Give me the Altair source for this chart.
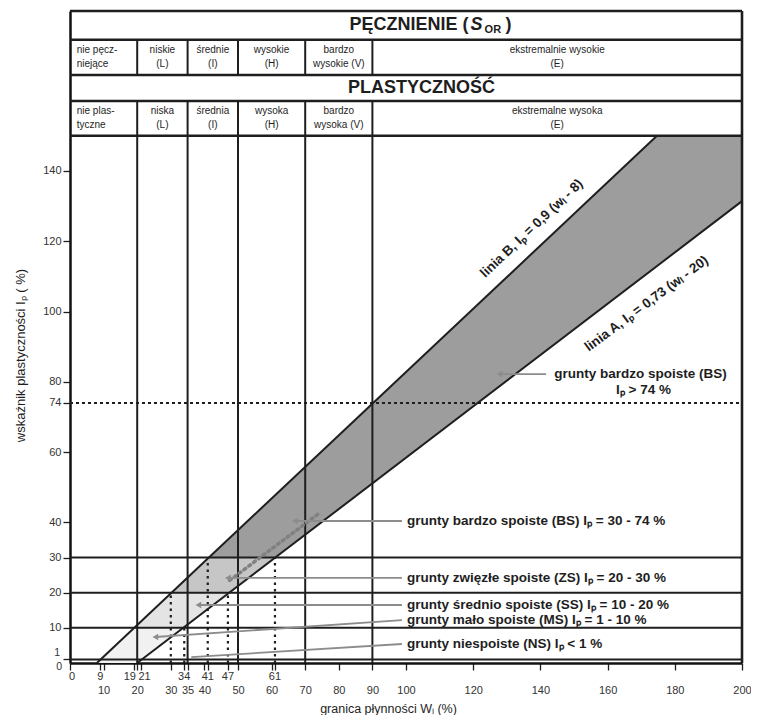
import altair as alt
import pandas as pd

FONT = "Liberation Sans"
W, H = 672, 652
Y_TOP = 185.5
INK = "#1e1e1e"

# ---------------- data ----------------
x_lower = [10, 20, 30, 35, 40, 50, 60, 70, 80, 90, 100, 120, 140, 160, 180, 200]
x_upper = [0, 9, 19, 21, 34, 41, 47, 61]
x_upper_shift = [2, 0, -4, 4, 0, 0, 0, 0]
y_ticks = [1, 10, 20, 30, 40, 60, 74, 80, 100, 120, 140]
y_corner = ["1", "0"]
y_corner_val = [1, 0]
y_corner_dx = [-10, -8]
y_corner_dy = [-6, 4]

class_wl = [20, 35, 50, 70, 90]          # plasticity class limits (w_L)
ip_limits = [1, 10, 20, 30]              # cohesion class limits (I_p)
header_rows = [150, 159.9, 167.3, 177.3, Y_TOP]

# lines A and B
lineA_wl = [20, 200]
lineA_ip = [0, 131.4]
lineB_wl = [8, 174.7]
lineB_ip = [0, 150]

# band between lines (Ip level, w_L on line B, w_L on line A)
lvl_ip = [0, 10, 20, 30, 131.4, 150]
lvl_left = [8, 19.1, 30.2, 41.3, 154.0, 174.7]
lvl_right = [20, 33.7, 47.4, 61.1, 200, 200]
band_names = ["0-10", "10-20", "20-30", ">30"]
band_idx = [[0, 1], [1, 2], [2, 3], [3, 4, 5]]
band_colors = ["#f1f1f1", "#e4e4e4", "#c6c6c6", "#9d9d9d"]

# dotted verticals
dv_wl = [30, 34, 41, 47, 61]
dv_top = [19.8, 10.2, 29.7, 19.7, 29.9]

# header labels
swell_l1 = ["nie pęcz-", "niskie", "średnie", "wysokie", "bardzo", "ekstremalnie wysokie"]
swell_l2 = ["niejące", "(L)", "(I)", "(H)", "wysokie (V)", "(E)"]
plast_l1 = ["nie plas-", "niska", "średnia", "wysoka", "bardzo", "ekstremalne wysoka"]
plast_l2 = ["tyczne", "(L)", "(I)", "(H)", "wysoka (V)", "(E)"]
col_pos = [2.0, 27.5, 42.5, 60, 80, 145]
col_align = ["left", "center", "center", "center", "center", "center"]

# leaders: start (arrow) -> end
ld_x1 = [127.8, 66.9, 47.0, 38.2, 25.4, 36.1]
ld_y1 = [82.2, 40.4, 24.2, 16.5, 7.4, 1.7]
ld_x2 = [141.7, 98.8, 98.8, 98.8, 98.8, 98.8]
ld_y2 = [82.2, 40.4, 24.2, 16.5, 12.2, 5.4]
ld_arrow = [True, True, True, True, True, False]

ann_text = [
    "grunty bardzo spoiste (BS) Iₚ = 30 - 74 %",
    "grunty zwięzłe spoiste (ZS) Iₚ = 20 - 30 %",
    "grunty średnio spoiste (SS) Iₚ = 10 - 20 %",
    "grunty mało spoiste (MS) Iₚ = 1 - 10 %",
    "grunty niespoiste (NS) Iₚ < 1 %",
]
ann_ip = [40.4, 24.2, 16.6, 12.1, 5.4]
ann_wl = 100.3

bs_text = ["grunty bardzo spoiste (BS)", "Iₚ > 74 %"]
bs_wl = [144.1, 170.7]
bs_ip = [82.2, 77.7]
bs_align = ["left", "center"]

dots_wl = [47.5, 74.0]
dots_ip = [23.5, 42.5]

# ---------------- scales / axes ----------------
xs = alt.Scale(domain=[0, 200], nice=False, zero=False)
ys = alt.Scale(domain=[0, Y_TOP], nice=False, zero=False)

x_all = sorted(set(x_lower + x_upper))
lower_str = "[" + ",".join(str(v) for v in x_lower) + "]"
X_AX = alt.Axis(
    values=x_all,
    labelExpr=f"indexof({lower_str}, datum.value) >= 0 ? datum.label : ''",
    title="granica płynności  Wₗ (%)",
    titleX=318, titleY=45, titleBaseline="middle", titleAlign="center",
    titleFont=FONT, titleFontSize=12.5, titleFontWeight="normal", titleColor=INK,
    labelFont=FONT, labelFontSize=11, labelColor="#333",
    labelPadding=14, labelFlush=False, labelOverlap=False,
    tickSize=7, tickColor=INK, tickWidth=1.3,
    domainColor="#111", domainWidth=2.5, grid=False,
)
Y_AX = alt.Axis(
    values=y_ticks,
    labelExpr="datum.value == 1 ? '' : datum.label",
    title="wskaźnik plastyczności  Iₚ  ( %)",
    titleX=-43, titleY=344, titleAngle=270, titleBaseline="bottom", titleAlign="center",
    titleFont=FONT, titleFontSize=13, titleFontWeight="normal", titleColor=INK,
    labelFont=FONT, labelFontSize=11, labelColor="#333", labelPadding=2,
    labelOverlap=False, labelFlush=False,
    tickSize=7, tickColor=INK, tickWidth=1.3,
    domainColor="#111", domainWidth=2.5, grid=False,
)


def X(f):
    return alt.X(f, type="quantitative", scale=xs, axis=X_AX)


def Y(f):
    return alt.Y(f, type="quantitative", scale=ys, axis=Y_AX)


def txt(df, **kw):
    base = dict(baseline="middle", font=FONT, color=INK)
    base.update(kw)
    return alt.Chart(df).mark_text(**base).encode(x=X("wl"), y=Y("ip"), text="t:N")


# ---------------- layers ----------------
band_rows = []
for name, idx in zip(band_names, band_idx):
    for i in idx:
        band_rows.append({"band": name, "ip": lvl_ip[i], "left": lvl_left[i], "right": lvl_right[i]})
bands = alt.Chart(pd.DataFrame(band_rows)).mark_area(orient="horizontal", opacity=1).encode(
    y=Y("ip"),
    x=alt.X("left", type="quantitative", scale=xs, axis=X_AX, stack=None),
    x2="right",
    color=alt.Color("band:N", scale=alt.Scale(domain=band_names, range=band_colors), legend=None),
    detail="band:N",
)

hl = alt.Chart(pd.DataFrame({"y": ip_limits, "a": 0, "b": 200})).mark_rule(
    color=INK, strokeWidth=2).encode(x=X("a"), x2="b", y=Y("y"))
hh = alt.Chart(pd.DataFrame({"y": header_rows, "a": 0, "b": 200})).mark_rule(
    color=INK, strokeWidth=2.6).encode(x=X("a"), x2="b", y=Y("y"))
vrows = []
for v in class_wl:
    vrows.append({"x": v, "y0": 0, "y1": header_rows[1]})
    vrows.append({"x": v, "y0": header_rows[2], "y1": header_rows[3]})
vl = alt.Chart(pd.DataFrame(vrows)).mark_rule(color=INK, strokeWidth=2).encode(
    x=X("x"), y=Y("y0"), y2="y1")
rb = alt.Chart(pd.DataFrame({"x": [200], "y0": [0], "y1": [Y_TOP]})).mark_rule(
    color=INK, strokeWidth=2.6).encode(x=X("x"), y=Y("y0"), y2="y1")

lab = pd.DataFrame({
    "line": ["A", "A", "B", "B"],
    "wl": lineA_wl + lineB_wl,
    "ip": lineA_ip + lineB_ip,
})
lines = alt.Chart(lab).mark_line(color=INK, strokeWidth=2).encode(
    x=X("wl"), y=Y("ip"), detail="line:N")

dv = alt.Chart(pd.DataFrame({"x": dv_wl, "y0": 0, "y1": dv_top})).mark_rule(
    color=INK, strokeWidth=2.2, strokeDash=[2.5, 4]).encode(x=X("x"), y=Y("y0"), y2="y1")
d74 = alt.Chart(pd.DataFrame({"y": [74], "a": [0], "b": [200]})).mark_rule(
    color=INK, strokeWidth=2, strokeDash=[3, 3]).encode(x=X("a"), x2="b", y=Y("y"))

dots = alt.Chart(pd.DataFrame({"wl": dots_wl, "ip": dots_ip})).mark_line(
    color="#808080", strokeWidth=3.5, strokeDash=[2, 4], strokeCap="round").encode(
    x=X("wl"), y=Y("ip"))

ld = pd.DataFrame({"x1": ld_x1, "y1": ld_y1, "x2": ld_x2, "y2": ld_y2, "arrow": ld_arrow})
leaders = alt.Chart(ld).mark_rule(color="#8c8c8c", strokeWidth=1.8).encode(
    x=X("x1"), y=Y("y1"), x2="x2", y2="y2")
arrows = alt.Chart(ld[ld["arrow"]]).mark_point(
    shape="triangle-left", filled=True, color="#8c8c8c", size=45, opacity=1).encode(
    x=X("x1"), y=Y("y1"))

ann = txt(pd.DataFrame({"t": ann_text, "ip": ann_ip, "wl": ann_wl}),
          align="left", fontSize=13.5, fontWeight="bold")
bs_layers = [
    txt(pd.DataFrame({"t": [t], "wl": [xw], "ip": [yi]}), align=al, fontSize=13.5, fontWeight="bold")
    for t, xw, yi, al in zip(bs_text, bs_wl, bs_ip, bs_align)
]

labB = txt(pd.DataFrame({"t": ["linia B, Iₚ = 0,9 (wₗ - 8)"], "wl": [137.4], "ip": [123.6]}),
           align="center", angle=316.5, fontSize=13.5, fontWeight="bold")
labA = txt(pd.DataFrame({"t": ["linia A, Iₚ = 0,73 (wₗ - 20)"], "wl": [171.6], "ip": [102.2]}),
           align="center", angle=323.3, fontSize=13.5, fontWeight="bold")

hdr_layers = []
for l1, l2, yy1, yy2 in [(swell_l1, swell_l2, 174.3, 170.3), (plast_l1, plast_l2, 157.0, 153.0)]:
    for al in ["left", "center"]:
        rows = []
        for a, b, p, alg in zip(l1, l2, col_pos, col_align):
            if alg == al:
                rows.append({"t": a, "wl": p, "ip": yy1})
                rows.append({"t": b, "wl": p, "ip": yy2})
        hdr_layers.append(txt(pd.DataFrame(rows), align=al, fontSize=10))

title_layers = [
    txt(pd.DataFrame({"t": ["PĘCZNIENIE  ("], "wl": [118.6], "ip": [181.4]}),
        align="right", fontSize=18, fontWeight="bold"),
    txt(pd.DataFrame({"t": ["S"], "wl": [119.2], "ip": [181.4]}),
        align="left", fontSize=18, fontWeight="bold", fontStyle="italic"),
    txt(pd.DataFrame({"t": ["OR"], "wl": [123.4], "ip": [181.4]}),
        align="left", dy=5, fontSize=11, fontWeight="bold"),
    txt(pd.DataFrame({"t": [")"], "wl": [129.6], "ip": [181.4]}),
        align="left", fontSize=18, fontWeight="bold"),
    txt(pd.DataFrame({"t": ["PLASTYCZNOŚĆ"], "wl": [104.6], "ip": [163.6]}),
        align="center", fontSize=18, fontWeight="bold"),
]

# upper row of x labels (one layer per label, so each can be nudged)
xup_layers = [
    alt.Chart(pd.DataFrame({"v": [v], "t": [str(v)]})).mark_text(
        align="center", baseline="middle", font=FONT, fontSize=11, color="#333", dx=s).encode(
        x=X("v"), y=alt.value(H + 14), text="t:N")
    for v, s in zip(x_upper, x_upper_shift)
]

# y labels 1 and 0 at the corner
y01_layers = [
    alt.Chart(pd.DataFrame({"t": [t], "wl": [0], "ip": [v]})).mark_text(
        align="right", baseline="middle", font=FONT, fontSize=10.5, color="#333", dx=ddx, dy=ddy).encode(
        x=X("wl"), y=Y("ip"), text="t:N")
    for t, v, ddx, ddy in zip(y_corner, y_corner_val, y_corner_dx, y_corner_dy)
]

chart = alt.layer(
    bands, hl, vl, dv, d74, dots, lines, leaders, arrows, hh, rb,
    ann, *bs_layers, labB, labA, *hdr_layers, *title_layers, *xup_layers, *y01_layers,
).properties(
    width=W, height=H,
    autosize=alt.AutoSizeParams(type="none"),
    padding={"left": 62, "top": 3, "right": 9, "bottom": 52},
    background="white",
).configure_view(stroke=None)

chart.save("out.html", embed_options={"renderer": "svg", "actions": False})
